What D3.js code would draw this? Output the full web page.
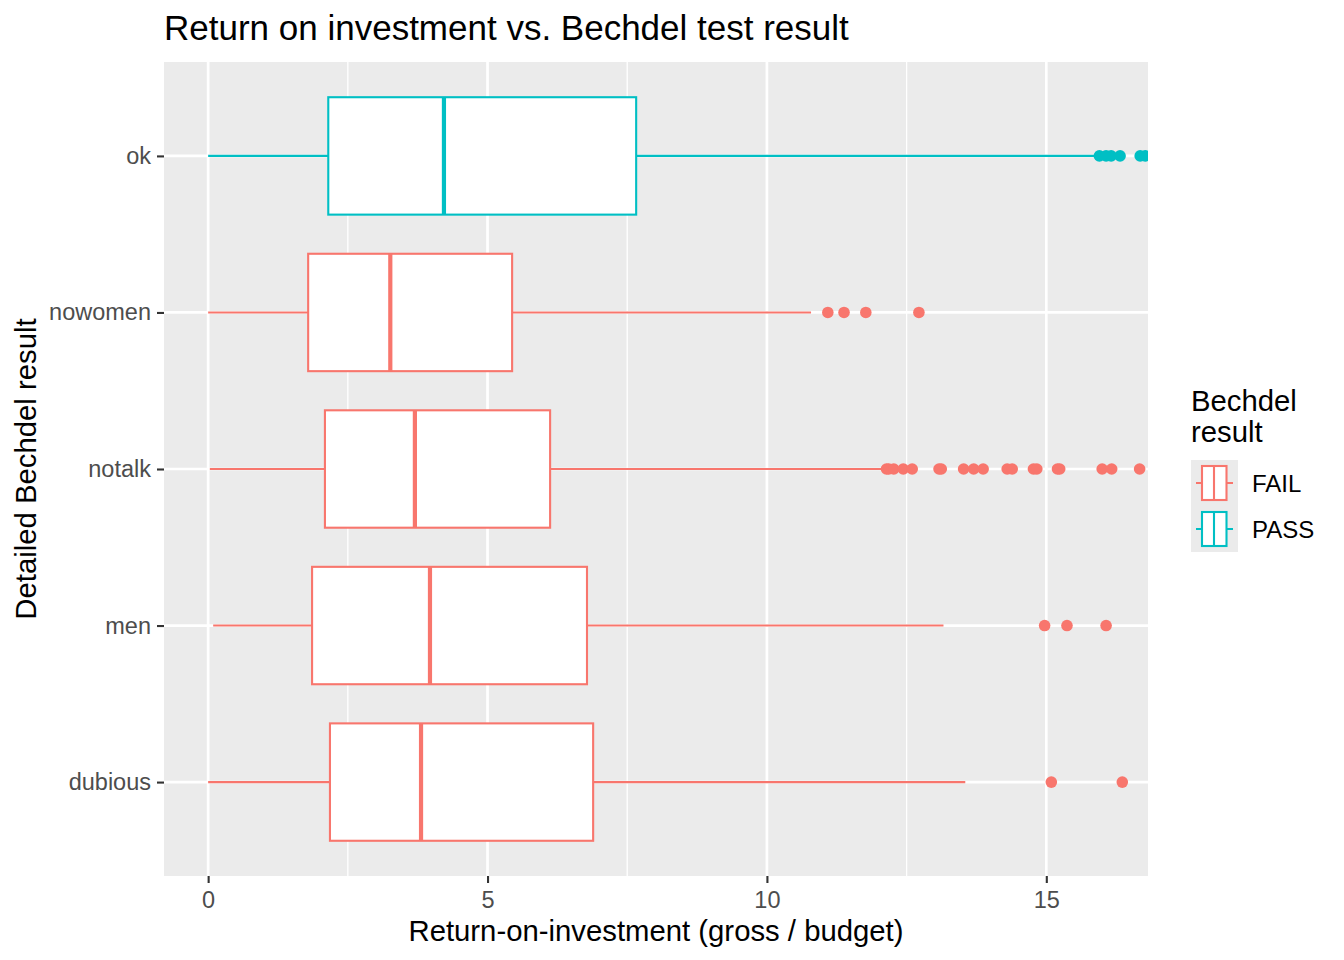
<!DOCTYPE html>
<html><head><meta charset="utf-8">
<script src="https://cdn.jsdelivr.net/npm/d3@7"></script>
<style>body{margin:0;background:#fff;}svg{display:block;font-family:"Liberation Sans",Arial,sans-serif;}</style>
</head><body>
<svg id="chart" width="1344" height="960"></svg>
<script>
const categories = ["ok","nowomen","notalk","men","dubious"];
const results = ["PASS","FAIL","FAIL","FAIL","FAIL"];
const whiskerLow = [0, 0, 0.03, 0.09, 0];
const q1 = [2.15, 1.79, 2.09, 1.86, 2.18];
const median = [4.22, 3.26, 3.70, 3.97, 3.81];
const q3 = [7.66, 5.44, 6.12, 6.78, 6.89];
const whiskerHigh = [15.91, 10.79, 12.10, 13.16, 13.55];
const outliers = [
  [15.95, 16.07, 16.16, 16.32, 16.68, 16.77],
  [11.09, 11.38, 11.77, 12.72],
  [12.14, 12.18, 12.27, 12.44, 12.60, 13.08, 13.12, 13.52, 13.70, 13.87, 14.30, 14.39, 14.77, 14.83, 15.20, 15.24, 16.00, 16.17, 16.67],
  [14.97, 15.37, 16.07, 16.95],
  [15.09, 16.36]
];
const xTicks = [0, 5, 10, 15];
const xMinor = [2.5, 7.5, 12.5];
const legendKeys = ["FAIL","PASS"];
const colors = {FAIL:"#F8766D", PASS:"#00BFC4"};

const svg = d3.select("#chart");
const P = {l:164, r:1148, t:62, b:876};
const x = d3.scaleLinear().domain([-0.79, 16.82]).range([P.l, P.r]);
const y = d3.scalePoint().domain(categories).range([P.t, P.b]).padding(0.6);
const half = y.step() * 0.375;

svg.append("text").attr("x", P.l).attr("y", 40).attr("font-size", 35).attr("fill", "#000")
  .text("Return on investment vs. Bechdel test result");

svg.append("defs").append("clipPath").attr("id","clip").append("rect")
  .attr("x",P.l).attr("y",P.t).attr("width",P.r-P.l).attr("height",P.b-P.t);

svg.append("rect").attr("x",P.l).attr("y",P.t).attr("width",P.r-P.l).attr("height",P.b-P.t).attr("fill","#EBEBEB");
const g = svg.append("g").attr("clip-path","url(#clip)");
g.selectAll(".minor").data(xMinor).join("line").attr("x1",d=>x(d)).attr("x2",d=>x(d))
  .attr("y1",P.t).attr("y2",P.b).attr("stroke","#fff").attr("stroke-width",1.3);
g.selectAll(".majx").data(xTicks).join("line").attr("x1",d=>x(d)).attr("x2",d=>x(d))
  .attr("y1",P.t).attr("y2",P.b).attr("stroke","#fff").attr("stroke-width",2.7);
g.selectAll(".majy").data(categories).join("line").attr("y1",d=>y(d)).attr("y2",d=>y(d))
  .attr("x1",P.l).attr("x2",P.r).attr("stroke","#fff").attr("stroke-width",2.7);

categories.forEach((c,i)=>{
  const col = colors[results[i]];
  const cy = y(c);
  const bg = g.append("g");
  bg.append("line").attr("x1",x(whiskerLow[i])).attr("x2",x(q1[i])).attr("y1",cy).attr("y2",cy).attr("stroke",col).attr("stroke-width",2.1);
  bg.append("line").attr("x1",x(q3[i])).attr("x2",x(whiskerHigh[i])).attr("y1",cy).attr("y2",cy).attr("stroke",col).attr("stroke-width",2.1);
  bg.append("rect").attr("x",x(q1[i])).attr("y",cy-half).attr("width",x(q3[i])-x(q1[i])).attr("height",2*half)
    .attr("fill","#fff").attr("stroke",col).attr("stroke-width",2.1);
  bg.append("line").attr("x1",x(median[i])).attr("x2",x(median[i])).attr("y1",cy-half).attr("y2",cy+half).attr("stroke",col).attr("stroke-width",4.2);
  bg.selectAll("circle").data(outliers[i]).join("circle").attr("cx",d=>x(d)).attr("cy",cy).attr("r",5.8).attr("fill",col);
});

// axes
const ax = svg.append("g").attr("transform",`translate(0,${P.b})`).call(d3.axisBottom(x).tickValues(xTicks).tickSize(7).tickPadding(8).tickFormat(d3.format("d")));
ax.select(".domain").remove();
ax.selectAll("line").attr("stroke","#333").attr("stroke-width",2.1);
ax.selectAll("text").attr("font-size",23.5).attr("fill","#4D4D4D").attr("font-family","Liberation Sans, Arial, sans-serif");

const ay = svg.append("g").attr("transform",`translate(${P.l},0)`).call(d3.axisLeft(y).tickSize(7).tickPadding(6));
ay.select(".domain").remove();
ay.selectAll("line").attr("stroke","#333").attr("stroke-width",2.1);
ay.selectAll("text").attr("font-size",23.5).attr("fill","#4D4D4D").attr("font-family","Liberation Sans, Arial, sans-serif");

svg.append("text").attr("x",(P.l+P.r)/2).attr("y",941).attr("text-anchor","middle").attr("font-size",29.3).attr("fill","#000")
  .text("Return-on-investment (gross / budget)");
svg.append("text").attr("transform",`translate(36,${(P.t+P.b)/2}) rotate(-90)`).attr("text-anchor","middle").attr("font-size",29.3).attr("fill","#000")
  .text("Detailed Bechdel result");

// legend
const lg = svg.append("g");
lg.append("text").attr("x",1191).attr("y",411).attr("font-size",29.3).attr("fill","#000").text("Bechdel");
lg.append("text").attr("x",1191).attr("y",442).attr("font-size",29.3).attr("fill","#000").text("result");
legendKeys.forEach((k,i)=>{
  const ky = 460 + i*46;
  const cy = ky + 23;
  const col = colors[k];
  lg.append("rect").attr("x",1191).attr("y",ky).attr("width",47).attr("height",46).attr("fill","#EBEBEB");
  lg.append("line").attr("x1",1196).attr("x2",1233).attr("y1",cy).attr("y2",cy).attr("stroke",col).attr("stroke-width",2.1);
  lg.append("rect").attr("x",1202).attr("y",cy-17).attr("width",24.5).attr("height",34).attr("fill","#fff").attr("stroke",col).attr("stroke-width",2.1);
  lg.append("line").attr("x1",1214).attr("x2",1214).attr("y1",cy-17).attr("y2",cy+17).attr("stroke",col).attr("stroke-width",2.1);
  lg.append("text").attr("x",1252).attr("y",cy+8.5).attr("font-size",24).attr("fill","#000").text(k);
});
</script>
</body></html>
